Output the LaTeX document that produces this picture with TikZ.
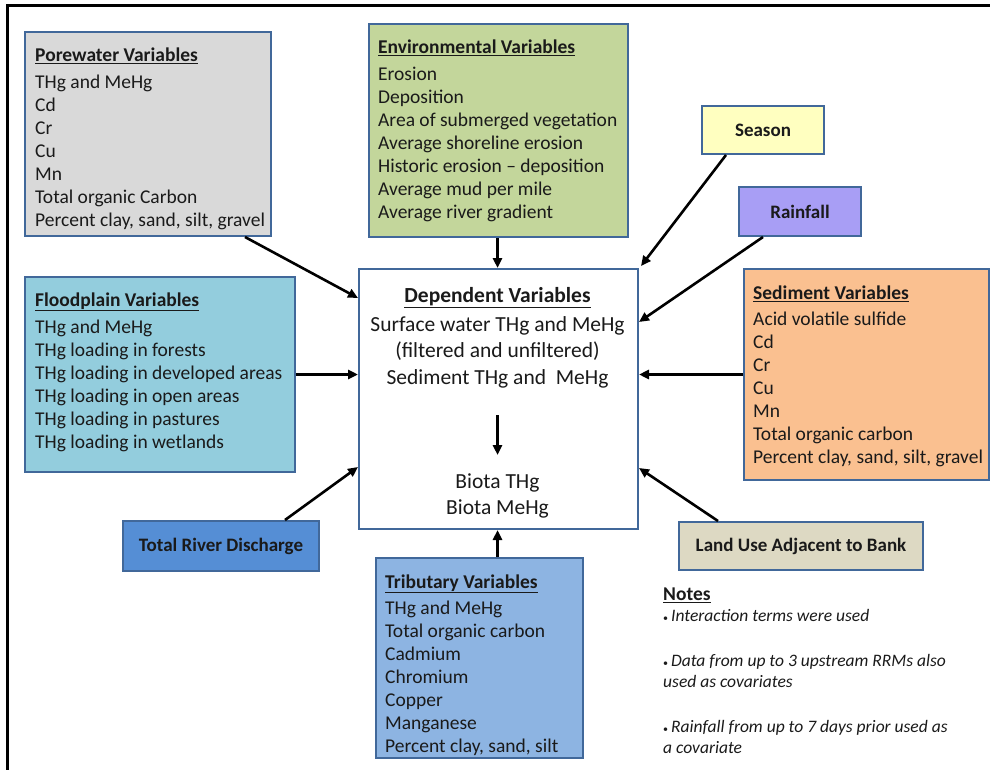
\documentclass[tikz,border=0pt]{standalone}
\usepackage{fontspec}
\setmainfont{Carlito}
\usetikzlibrary{arrows.meta,calc}

\definecolor{edge}{HTML}{41689A}
\definecolor{porefill}{HTML}{D9D9D9}
\definecolor{envfill}{HTML}{C3D69B}
\definecolor{seasonfill}{HTML}{FFFFC0}
\definecolor{rainfill}{HTML}{A89EF5}
\definecolor{sedfill}{HTML}{FAC090}
\definecolor{floodfill}{HTML}{93CDDD}
\definecolor{dischfill}{HTML}{558ED5}
\definecolor{tribfill}{HTML}{8DB4E2}
\definecolor{landfill}{HTML}{DDD9C3}
\definecolor{ink}{HTML}{1A1A1A}

\newcommand\boxtitle[1]{\underline{\textbf{#1}}}

\begin{document}
\begin{tikzpicture}[x=1pt,y=-1pt,
  box/.style={draw=edge, line width=2pt, inner sep=0pt, anchor=north west,
    font=\fontsize{19}{23}\selectfont\bfseries, text=ink},
  listtext/.style={inner sep=0pt, anchor=north west, align=left, text=ink,
    font=\fontsize{19.5}{23}\selectfont},
  deptext/.style={inner sep=0pt, anchor=north, align=center, text=ink,
    font=\fontsize{21.5}{26.5}\selectfont},
  notetext/.style={inner sep=0pt, anchor=north west, align=left, text=ink,
    font=\fontsize{17.5}{21}\selectfont\itshape},
  arr/.style={line width=2.6pt, -{Triangle[length=10pt,width=9pt]}}]

\useasboundingbox (0,0) rectangle (990,770);

% outer frame (left and top edges)
\draw[line width=3pt] (7,770) -- (7,6) -- (990,6);

% boxes
\node[box, fill=porefill, minimum width=246, minimum height=204] (pw) at (24,31) {};
\node[box, fill=envfill, minimum width=259, minimum height=213] (env) at (368,23) {};
\node[box, fill=seasonfill, minimum width=122, minimum height=48] (season) at (701,105) {Season};
\node[box, fill=rainfill, minimum width=122, minimum height=49] (rain) at (738,186) {Rainfall};
\node[box, fill=sedfill, minimum width=245, minimum height=211] (sed) at (743,268) {};
\node[box, fill=floodfill, minimum width=270, minimum height=195] (fp) at (24,276) {};
\node[box, fill=white, minimum width=279, minimum height=260] (dep) at (358,268) {};
\node[box, fill=dischfill, minimum width=196, minimum height=50] (trd) at (122,520) {Total River Discharge};
\node[box, fill=tribfill, minimum width=207, minimum height=200] (trib) at (375,557) {};
\node[box, fill=landfill, minimum width=244, minimum height=48] (land) at (678,521) {Land Use Adjacent to Bank};

% box contents
\node[listtext] (pwtxt) at (35,44.9) {\strut\boxtitle{Porewater Variables}\\[4pt]
  THg and MeHg\\ Cd\\ Cr\\ Cu\\ Mn\\ Total organic Carbon\\ Percent clay, sand, silt, gravel};
\node[listtext] (envtxt) at (378,36.9) {\strut\boxtitle{Environmental Variables}\\[4pt]
  Erosion\\ Deposition\\ Area of submerged vegetation\\ Average shoreline erosion\\
  Historic erosion -- deposition\\ Average mud per mile\\ Average river gradient};
\node[listtext] (sedtxt) at (753,282.9) {\strut\boxtitle{Sediment Variables}\\[3pt]
  Acid volatile sulfide\\ Cd\\ Cr\\ Cu\\ Mn\\ Total organic carbon\\ Percent clay, sand, silt, gravel};
\node[listtext] (fptxt) at (35,289.9) {\strut\boxtitle{Floodplain Variables}\\[4pt]
  THg and MeHg\\ THg loading in forests\\ THg loading in developed areas\\
  THg loading in open areas\\ THg loading in pastures\\ THg loading in wetlands};
\node[listtext] (tribtxt) at (385,571.9) {\strut\boxtitle{Tributary Variables}\\[3pt]
  THg and MeHg\\ Total organic carbon\\ Cadmium\\ Chromium\\ Copper\\ Manganese\\
  Percent clay, sand, silt};

\node[deptext] (deptop) at (497.5,283.5) {\strut\boxtitle{Dependent Variables}\\[2.5pt]
  Surface water THg and MeHg\\ (filtered and unfiltered)\\ Sediment THg and\ \ MeHg};
\node[deptext] (biota) at (497.5,469.5) {\strut Biota THg\\ Biota MeHg};
\coordinate (dtop) at (497.5,415);
\coordinate (dbot) at (497.5,455);

% notes
\node[listtext] (notes) at (663,583.9) {\strut\boxtitle{Notes}};
\newcommand\notebullet{{\fontsize{10}{10}\selectfont\upshape\textbullet}\,}
\node[notetext] (notestxt) at (663,606.3) {\strut\notebullet Interaction terms were used\\[24pt]
  \notebullet Data from up to 3 upstream RRMs also\\ used as covariates\\[24pt]
  \notebullet Rainfall from up to 7 days prior used as\\ a covariate};

% connectors
\draw[arr] ($(pw.south west)+(221,0)$) -- ($(dep.north west)+(0,30)$);
\draw[arr] (env.south -| dtop) -- (dep.north -| dtop);
\draw[arr] ($(season.south west)+(25,0)$) -- ($(dep.north east)+(2,-2)$);
\draw[arr] ($(rain.south west)+(25,0)$) -- ($(dep.north east)+(0,54)$);
\draw[arr] (sed.west) -- (sed.west -| dep.east);
\draw[arr] (fp.east) -- (fp.east -| dep.west);
\draw[arr] ($(land.north west)+(40,0)$) -- ($(dep.south east)+(0,-62)$);
\draw[arr] ($(trd.north west)+(163,0)$) -- ($(dep.south west)+(0,-63)$);
\draw[arr] (trib.north -| dtop) -- (dep.south -| dtop);
\draw[arr] (dtop) -- (dbot);

\end{tikzpicture}
\end{document}
